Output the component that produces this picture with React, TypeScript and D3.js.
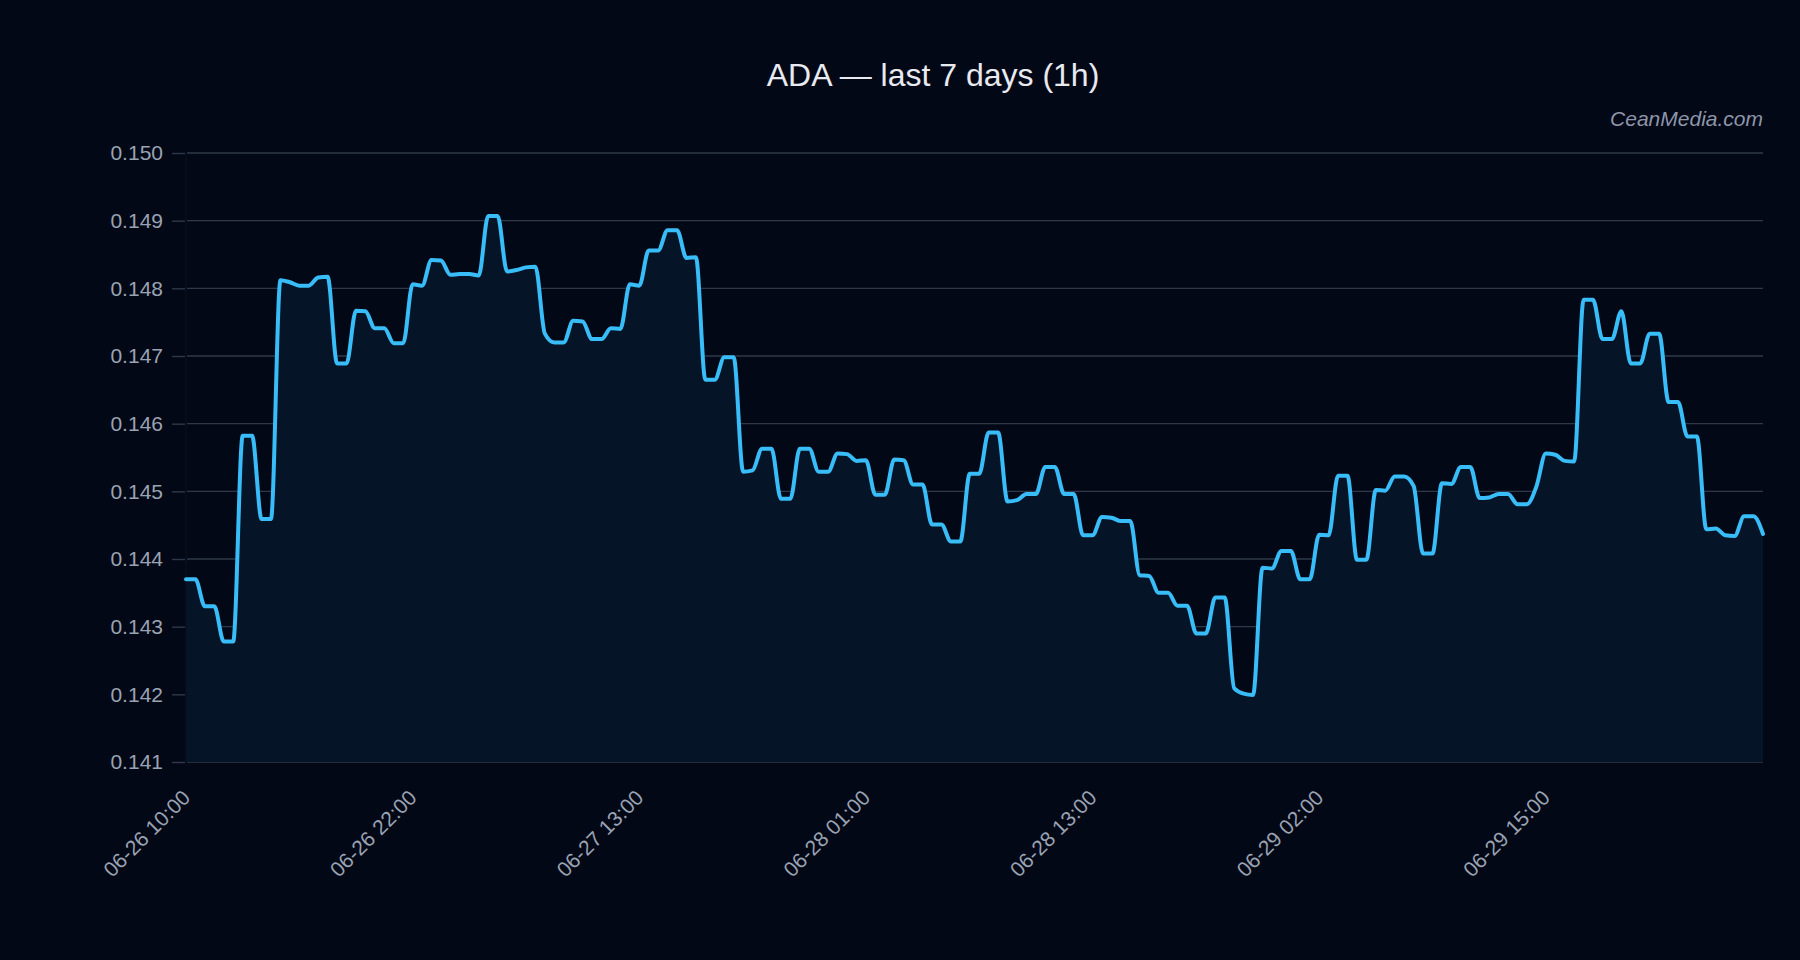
import React, { useEffect, useRef } from "react";
import * as d3 from "d3";

const title = "ADA — last 7 days (1h)";
const watermark = "CeanMedia.com";

// hourly prices, oldest first (168 points)
const prices = [
	0.1437, 0.1437, 0.1433, 0.1433, 0.14278, 0.14278, 0.14582, 0.14582, 0.14459, 0.14459,
	0.14812, 0.14809, 0.14804, 0.14804, 0.14816, 0.14817, 0.14689, 0.14689, 0.14767, 0.14766,
	0.14741, 0.14741, 0.14719, 0.14719, 0.14806, 0.14804, 0.14842, 0.14841, 0.1482, 0.14821,
	0.14821, 0.14819, 0.14907, 0.14907, 0.14825, 0.14827, 0.14831, 0.14832, 0.14733, 0.1472,
	0.1472, 0.14752, 0.14751, 0.14725, 0.14725, 0.14741, 0.1474, 0.14806, 0.14804, 0.14856,
	0.14856, 0.14886, 0.14886, 0.14845, 0.14846, 0.14665, 0.14665, 0.14698, 0.14698, 0.14529,
	0.14531, 0.14563, 0.14563, 0.14489, 0.14489, 0.14563, 0.14563, 0.14529, 0.14529, 0.14556,
	0.14555, 0.14545, 0.14546, 0.14495, 0.14495, 0.14547, 0.14546, 0.1451, 0.1451, 0.14451,
	0.14451, 0.14426, 0.14426, 0.14526, 0.14526, 0.14587, 0.14587, 0.14485, 0.14487, 0.14496,
	0.14496, 0.14536, 0.14536, 0.14496, 0.14496, 0.14435, 0.14435, 0.14462, 0.14461, 0.14456,
	0.14456, 0.14376, 0.14375, 0.1435, 0.1435, 0.14331, 0.14331, 0.1429, 0.1429, 0.14343,
	0.14343, 0.14209, 0.14201, 0.14199, 0.14387, 0.14386, 0.14412, 0.14412, 0.1437, 0.1437,
	0.14436, 0.14435, 0.14523, 0.14523, 0.14399, 0.14399, 0.14502, 0.14501, 0.14522, 0.14522,
	0.14508, 0.14408, 0.14408, 0.14512, 0.14511, 0.14536, 0.14536, 0.1449, 0.14491, 0.14496,
	0.14496, 0.14481, 0.14481, 0.14507, 0.14556, 0.14554, 0.14545, 0.14544, 0.14783, 0.14783,
	0.14725, 0.14725, 0.14766, 0.14689, 0.14689, 0.14733, 0.14733, 0.14632, 0.14632, 0.14581,
	0.14581, 0.14444, 0.14445, 0.14435, 0.14434, 0.14463, 0.14463, 0.14437,
];

// one label every 24 points
const tickLabels = [
	"06-26 10:00",
	"06-26 22:00",
	"06-27 13:00",
	"06-28 01:00",
	"06-28 13:00",
	"06-29 02:00",
	"06-29 15:00",
];
const labelEvery = 24;
const yDomain = [0.141, 0.15];

export default function App() {
	const ref = useRef<SVGSVGElement>(null);

	useEffect(() => {
		const svg = d3.select(ref.current);
		svg.selectAll("*").remove();
		const font = "'Liberation Sans', Arial, sans-serif";
		const left = 186,
			right = 1763,
			top = 153,
			bottom = 762;

		const x = d3.scaleLinear().domain([0, prices.length - 1]).range([left, right]);
		const y = d3.scaleLinear().domain(yDomain).range([bottom, top]);
		const yTicks = y.ticks(10);

		// grid
		svg.append("g")
			.selectAll("line")
			.data(yTicks)
			.enter()
			.append("line")
			.attr("x1", left + 1)
			.attr("x2", right)
			.attr("y1", (d) => y(d))
			.attr("y2", (d) => y(d))
			.attr("stroke", "#2e3848")
			.attr("stroke-width", 1.4);

		svg.append("line")
			.attr("x1", left)
			.attr("x2", left)
			.attr("y1", top)
			.attr("y2", bottom)
			.attr("stroke", "#0a1120");

		// area + line
		const area = d3
			.area<number>()
			.x((d, i) => x(i))
			.y0(y(yDomain[0]))
			.y1((d) => y(d))
			.curve(d3.curveMonotoneX);
		const line = d3
			.line<number>()
			.x((d, i) => x(i))
			.y((d) => y(d))
			.curve(d3.curveMonotoneX);

		svg.append("path").datum(prices).attr("d", area).attr("fill", "#061427");
		svg.append("path")
			.datum(prices)
			.attr("d", line)
			.attr("fill", "none")
			.attr("stroke", "#38bdf8")
			.attr("stroke-width", 4)
			.attr("stroke-linejoin", "round")
			.attr("stroke-linecap", "round");

		// y axis
		const yAxis = svg
			.append("g")
			.attr("transform", `translate(${left},0)`)
			.call(
				d3.axisLeft(y).tickValues(yTicks).tickSize(15).tickPadding(8).tickFormat(d3.format(".3f"))
			);
		yAxis.select(".domain").remove();
		yAxis.selectAll(".tick line").attr("stroke", "#2e3848").attr("stroke-width", 1.4).attr("x2", -14).attr("x1", -1);
		yAxis.selectAll(".tick text")
			.attr("fill", "#9aa3b2")
			.style("font-family", font)
			.style("font-size", "21px");

		// x axis
		const xAxis = svg
			.append("g")
			.attr("transform", `translate(0,${bottom})`)
			.call(
				d3.axisBottom(x)
					.tickValues(tickLabels.map((_, i) => i * labelEvery))
					.tickSize(0)
					.tickFormat((d, i) => tickLabels[i])
			);
		xAxis.select(".domain").remove();
		xAxis.selectAll(".tick text")
			.attr("x", 0)
			.attr("y", 0)
			.attr("dy", 0)
			.attr("transform", "translate(5,37) rotate(-45)")
			.attr("text-anchor", "end")
			.attr("fill", "#9aa3b2")
			.style("font-family", font)
			.style("font-size", "21px");

		// title + watermark
		svg.append("text")
			.attr("x", 933)
			.attr("y", 86)
			.attr("text-anchor", "middle")
			.attr("fill", "#e8eaf0")
			.style("font-family", font)
			.style("font-size", "32px")
			.text(title);

		svg.append("text")
			.attr("x", right)
			.attr("y", 126)
			.attr("text-anchor", "end")
			.attr("fill", "#8d96a8")
			.style("font-family", font)
			.style("font-style", "italic")
			.style("font-size", "21px")
			.text(watermark);
	}, []);

	return (
		<svg
			ref={ref}
			width={1800}
			height={960}
			style={{ position: "absolute", left: 0, top: 0, background: "#030817", display: "block" }}
		/>
	);
}
